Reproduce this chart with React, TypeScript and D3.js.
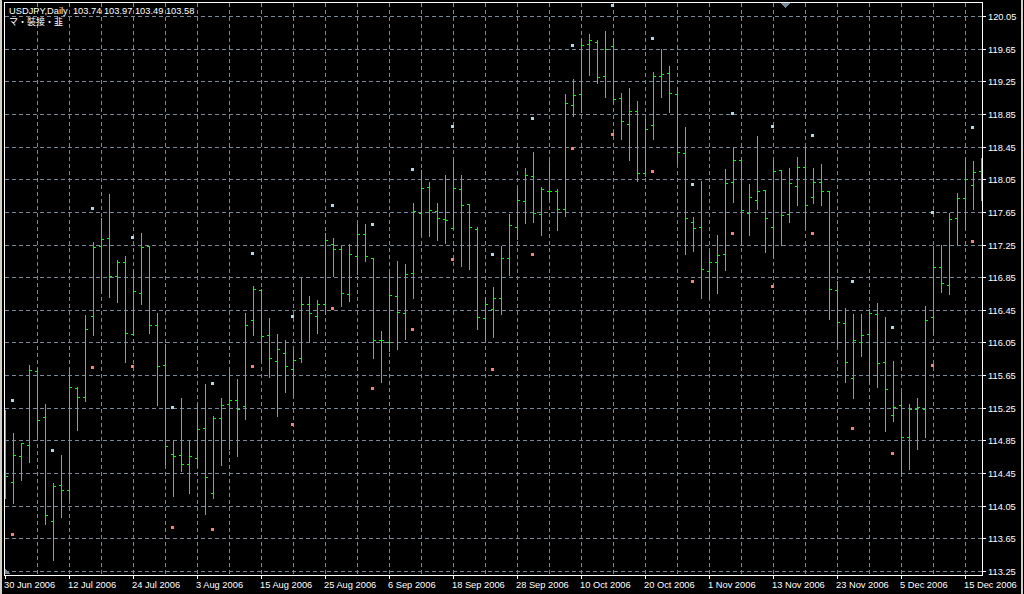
import { useMemo } from "react";
import * as d3 from "d3";

// daily bars (USDJPY, 30 Jun 2006 .. 19 Dec 2006)
const opens = [
  114.90, 114.34, 114.66, 114.79, 115.70, 115.14, 113.86, 114.30, 114.24, 115.49,
  115.38, 116.37, 117.23, 117.33, 116.86, 117.03, 116.15, 116.65, 117.23, 116.27,
  115.77, 114.68, 114.67, 114.56, 114.63, 115.00, 114.21, 115.12, 115.29, 115.34,
  115.27, 116.33, 116.69, 116.14, 115.82, 115.92, 115.72, 115.86, 116.52, 116.37,
  116.52, 117.26, 117.20, 116.64, 117.11, 117.38, 117.09, 116.08, 116.06, 116.62,
  116.41, 116.90, 117.64, 117.95, 117.66, 117.56, 117.45, 117.93, 117.75, 117.44,
  116.35, 116.46, 116.60, 117.08, 117.47, 117.78, 118.09, 117.62, 117.91, 117.91,
  117.68, 118.96, 119.09, 119.71, 119.73, 119.32, 119.68, 119.04, 118.73, 118.88,
  118.13, 118.72, 119.31, 119.35, 119.10, 118.37, 117.53, 117.46, 116.92, 117.03,
  117.13, 118.01, 118.28, 117.64, 117.80, 117.92, 117.47, 118.16, 117.62, 117.97,
  118.20, 117.83, 118.02, 117.91, 116.69, 116.29, 115.62, 116.06, 116.15, 116.40,
  115.81, 115.16, 115.28, 114.89, 115.23, 115.24, 116.36, 116.97, 116.76, 117.57,
  117.82, 117.98, 118.15,
];
const highs = [
  115.22, 114.94, 114.82, 115.78, 115.74, 115.29, 114.33, 114.67, 115.74, 115.51,
  116.39, 117.28, 117.58, 117.87, 117.06, 117.11, 116.93, 117.39, 117.23, 116.41,
  116.03, 114.84, 115.37, 114.85, 115.30, 115.54, 115.15, 115.37, 115.73, 115.60,
  116.41, 116.74, 116.71, 116.35, 116.15, 116.08, 115.97, 116.84, 116.62, 116.57,
  117.39, 117.33, 117.23, 117.26, 117.50, 117.50, 117.09, 116.19, 116.91, 117.05,
  117.01, 117.76, 118.16, 118.02, 117.76, 118.10, 118.30, 118.10, 117.75, 117.46,
  116.61, 116.73, 117.23, 117.63, 117.94, 118.19, 118.38, 117.96, 118.27, 117.93,
  119.09, 119.28, 119.77, 119.83, 119.76, 119.87, 119.78, 119.11, 119.17, 119.01,
  118.79, 119.36, 119.65, 119.44, 119.18, 118.69, 117.59, 118.03, 117.16, 117.37,
  118.18, 118.44, 118.30, 117.99, 118.58, 117.92, 118.29, 118.16, 118.19, 118.32,
  118.45, 118.19, 118.24, 117.91, 116.80, 116.47, 116.40, 116.40, 116.46, 116.53,
  116.36, 115.82, 115.44, 115.30, 115.37, 116.50, 117.23, 117.25, 117.64, 117.88,
  118.31, 118.27, 118.31,
];
const lows = [
  114.15, 114.08, 114.36, 114.58, 114.89, 113.82, 113.38, 113.91, 114.13, 114.98,
  115.33, 116.14, 116.67, 116.61, 116.54, 115.81, 116.14, 116.52, 116.17, 115.28,
  114.56, 114.17, 114.47, 114.20, 114.53, 113.95, 114.15, 114.55, 114.75, 114.66,
  115.11, 116.14, 115.83, 115.63, 115.15, 115.44, 115.41, 115.81, 116.07, 116.16,
  116.40, 116.86, 116.50, 116.56, 116.89, 117.05, 115.86, 115.56, 115.95, 115.97,
  116.09, 116.60, 117.37, 117.35, 117.30, 117.27, 117.45, 116.99, 116.95, 116.22,
  116.07, 116.12, 116.40, 116.88, 117.32, 117.51, 117.52, 117.37, 117.81, 117.43,
  117.60, 118.82, 118.87, 119.33, 119.23, 119.06, 119.00, 118.54, 118.29, 118.03,
  118.09, 118.54, 119.06, 118.87, 118.25, 117.13, 117.17, 116.60, 116.59, 116.66,
  116.94, 117.77, 117.24, 117.37, 117.69, 117.16, 117.10, 117.24, 117.52, 117.74,
  117.47, 117.76, 117.73, 116.34, 116.01, 115.57, 115.37, 115.89, 115.57, 115.50,
  114.97, 115.09, 114.41, 114.50, 114.75, 114.89, 116.15, 116.67, 116.64, 117.26,
  117.44, 117.68, 117.80,
];
const closes = [
  114.42, 114.67, 114.82, 115.71, 115.10, 113.93, 114.29, 114.24, 115.50, 115.38,
  116.21, 117.22, 117.32, 116.87, 117.03, 116.16, 116.68, 117.22, 116.26, 115.76,
  114.78, 114.66, 114.56, 114.66, 114.99, 114.40, 115.13, 115.28, 115.35, 115.24,
  116.27, 116.70, 116.13, 115.86, 115.97, 115.76, 115.84, 116.52, 116.41, 116.52,
  117.30, 117.19, 116.66, 117.14, 117.38, 117.11, 116.08, 116.08, 116.63, 116.42,
  116.89, 117.66, 117.94, 117.67, 117.57, 117.55, 117.94, 117.74, 117.46, 116.36,
  116.52, 116.59, 117.09, 117.49, 117.79, 118.10, 117.64, 117.93, 117.90, 117.69,
  118.98, 119.08, 119.70, 119.76, 119.30, 119.65, 119.03, 118.76, 118.89, 118.13,
  118.67, 119.32, 119.34, 119.11, 118.38, 117.57, 117.45, 116.95, 117.03, 117.12,
  118.00, 118.29, 117.67, 117.83, 117.91, 117.58, 118.15, 117.61, 118.00, 118.20,
  117.73, 118.02, 117.90, 116.71, 116.30, 115.81, 116.08, 116.14, 116.41, 115.80,
  115.48, 115.26, 114.89, 115.24, 115.26, 116.33, 116.98, 116.78, 117.56, 117.82,
  118.05, 118.14, 118.20,
];

// indicator markers, one every 5 bars starting at bar 1
const markerBars = [1, 6, 11, 16, 21, 26, 31, 36, 41, 46, 51, 56, 61, 66, 71, 76, 81, 86, 91, 96, 101, 106, 111, 116, 121];
const upperMarks = [
  115.34, 114.73, 117.70, 117.34, 115.26, 115.55, 117.15, 116.37, 117.73, 117.50,
  118.17, 118.70, 117.14, 118.80, 119.69, 120.19, 119.78, 117.99, 118.86, 118.70,
  118.59, 116.80, 116.24, 117.65, 118.69,
];
const lowerMarks = [
  113.70, null, 115.75, 115.76, 113.79, 113.76, 115.76, 115.05, 116.47, 115.49,
  116.21, 117.07, 115.73, 117.13, 118.43, 118.61, 118.15, 116.80, 117.39, 116.74,
  117.39, 115.00, 114.70, 115.77, 117.29,
];

const priceTicks = [
  113.25, 113.65, 114.05, 114.45, 114.85, 115.25, 115.65, 116.05, 116.45,
  116.85, 117.25, 117.65, 118.05, 118.45, 118.85, 119.25, 119.65, 120.05,
];
// one label every 8 bars
const dateLabels = [
  "30 Jun 2006", "12 Jul 2006", "24 Jul 2006", "3 Aug 2006", "15 Aug 2006", "25 Aug 2006",
  "6 Sep 2006", "18 Sep 2006", "28 Sep 2006", "10 Oct 2006", "20 Oct 2006", "1 Nov 2006",
  "13 Nov 2006", "23 Nov 2006", "5 Dec 2006", "15 Dec 2006",
];

const W = 1024;
const H = 594;
const left = 4;
const right = 982;
const top = 2;
const bottom = 575;

const GRID = "#778899";
const BAR = "#00ff00";
const FONT = "'Liberation Sans', Arial, sans-serif";

export default function App() {
  const x = useMemo(() => d3.scaleLinear().domain([0, 122]).range([5, 981]), []);
  const y = useMemo(() => d3.scaleLinear().domain([113.25, 120.05]).range([571, 16]), []);
  const px = (i: number) => Math.round(x(i));
  const py = (v: number) => Math.round(y(v));

  const gridBars = d3.range(4, closes.length, 4);

  return (
    <svg
      width={W}
      height={H}
      style={{ position: "absolute", left: 0, top: 0, display: "block" }}
      shapeRendering="crispEdges"
    >
      <defs>
        <clipPath id="plot">
          <rect x={left + 1} y={top + 1} width={right - left - 1} height={bottom - top - 1} />
        </clipPath>
      </defs>
      <rect width={W} height={H} fill="#000" />
      <rect x={0} y={0} width={2} height={H} fill="#d4d0c8" />
      <rect x={1021} y={0} width={2} height={H} fill="#d4d0c8" />

      {/* grid */}
      <g stroke={GRID} strokeWidth={1} strokeDasharray="4,3">
        {priceTicks.map((t) => (
          <line key={t} x1={left + 1} x2={right} y1={py(t) + 0.5} y2={py(t) + 0.5} />
        ))}
        {gridBars.map((i) => (
          <line key={i} x1={px(i) + 0.5} x2={px(i) + 0.5} y1={top + 1} y2={bottom} />
        ))}
      </g>

      <g clipPath="url(#plot)">
        {/* OHLC bars */}
        {closes.map((c, i) => {
          const bx = px(i);
          const yh = py(highs[i]);
          const yl = py(lows[i]);
          return (
            <g key={i} fill={BAR}>
              <rect x={bx} y={yh} width={1} height={yl - yh + 1} />
              <rect x={bx - 2} y={py(opens[i])} width={2} height={1} />
              <rect x={bx + 1} y={py(c)} width={2} height={1} />
            </g>
          );
        })}

        {/* markers */}
        {markerBars.map((b, k) => (
          <rect key={"u" + b} x={px(b) - 2} y={py(upperMarks[k]) - 1} width={3} height={3} fill="#add8e6" />
        ))}
        {markerBars.map((b, k) =>
          lowerMarks[k] == null ? null : (
            <rect key={"l" + b} x={px(b) - 2} y={py(lowerMarks[k] as number) - 1} width={3} height={3} fill="#fa8072" />
          )
        )}
      </g>

      {/* frame and axes */}
      <g stroke="#fff" strokeWidth={1}>
        <line x1={left + 0.5} x2={left + 0.5} y1={top} y2={bottom + 1} />
        <line x1={left} x2={right + 1} y1={top + 0.5} y2={top + 0.5} />
        <line x1={right + 0.5} x2={right + 0.5} y1={top} y2={bottom + 1} />
        <line x1={left} x2={right + 1} y1={bottom + 0.5} y2={bottom + 0.5} />
        {priceTicks.map((t) => (
          <line key={t} x1={right} x2={right + 4} y1={py(t) + 0.5} y2={py(t) + 0.5} />
        ))}
        {dateLabels.map((d, k) => (
          <line key={d} x1={px(k * 8) + 0.5} x2={px(k * 8) + 0.5} y1={bottom} y2={bottom + 4} />
        ))}
      </g>

      <polygon points={`781,3 790,3 785.5,8`} fill={GRID} />
      <polygon points={`5,569 10,574 5,574`} fill={GRID} />

      <g fill="#fff" fontFamily={FONT} fontSize={9.3}>
        {priceTicks.map((t) => (
          <text key={t} x={988} y={py(t) + 3.5}>
            {t.toFixed(2)}
          </text>
        ))}
        {dateLabels.map((d, k) => (
          <text key={d} x={px(k * 8) - 1} y={588}>
            {d}
          </text>
        ))}
        <text x={9} y={13.5} style={{ whiteSpace: "pre" }}>
          {"USDJPY,Daily  103.74 103.97 103.49 103.58"}
        </text>
        <text x={9} y={24.5} fontFamily="'Noto Sans CJK JP', sans-serif" fontSize={9}>
          マ・裝接・韭
        </text>
      </g>
    </svg>
  );
}
